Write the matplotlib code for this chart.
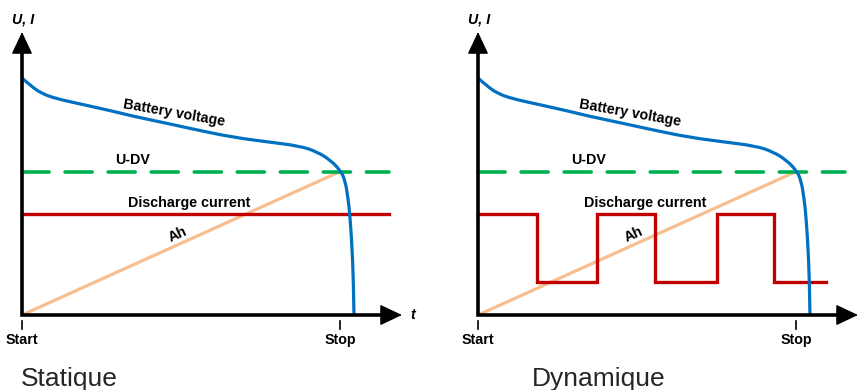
import matplotlib
matplotlib.use("Agg")
import matplotlib.pyplot as plt
from matplotlib.path import Path
from matplotlib.patches import PathPatch

plt.rcParams['font.family'] = ['Liberation Sans', 'DejaVu Sans']
plt.rcParams['lines.scale_dashes'] = False

# Battery voltage curve (time: Start=0, Stop=1; level: initial voltage=1)
t_volt = [0.000, 0.031, 0.062, 0.104, 0.188, 0.292, 0.345, 0.455, 0.560,
          0.664, 0.769, 0.874, 0.927, 0.969, 1.000, 1.016, 1.026, 1.031,
          1.037, 1.042, 1.044]
u_volt = [1.000, 0.963, 0.935, 0.914, 0.889, 0.858, 0.840, 0.809, 0.778,
          0.750, 0.731, 0.713, 0.689, 0.654, 0.612, 0.570, 0.485, 0.422,
          0.304, 0.160, 0.000]

u_dv = 0.605
line_end = 1.154

# Static discharge current
i_static = 0.426

# Dynamic discharge current (square wave)
t_switch = [0.0, 0.187, 0.373, 0.557, 0.751, 0.931, 1.094]
i_dyn = [0.426, 0.139, 0.426, 0.139, 0.426, 0.139]

# Ah counter: from Start to U-DV at Stop
t_ah = [0.0, 1.0]
ah = [0.0, u_dv]

titles = ["Statique", "Dynamique"]
tick_labels = ["Start", "Stop"]
tick_pos = [0.0, 1.0]

BLUE = "#0070C0"
GREEN = "#00B050"
RED = "#C00000"
ORANGE = "#F7BE90"
TXT = "#262626"

PX_T = 318.0
PX_V = 237.0
W, H = 862, 390

fig = plt.figure(figsize=(W / 100, H / 100), dpi=100)


def smooth_path(xs, ys):
    # quadratic B-spline style path: read points act as control points
    pts = list(zip(xs, ys))
    verts = [pts[0]]
    codes = [Path.MOVETO]
    for i in range(1, len(pts) - 1):
        nxt = pts[i + 1] if i == len(pts) - 2 else \
            ((pts[i][0] + pts[i + 1][0]) / 2, (pts[i][1] + pts[i + 1][1]) / 2)
        verts += [pts[i], nxt]
        codes += [Path.CURVE3, Path.CURVE3]
    return Path(verts, codes)


def panel(left_px, origin_px, dynamic, show_t):
    ax = fig.add_axes([left_px / W, 0, 431 / W, 1])
    ax.set_xlim((left_px - origin_px) / PX_T, (left_px + 431 - origin_px) / PX_T)
    ax.set_ylim((315 - H) / PX_V, 315 / PX_V)
    ax.axis('off')

    x_tip = 1.195
    y_tip = 1.194

    # Ah
    ax.plot(t_ah, ah, color=ORANGE, lw=2.3, solid_capstyle='butt', zorder=2)
    # discharge current
    if dynamic:
        ax.step(t_switch, i_dyn + [i_dyn[-1]], where='post', color=RED, lw=2.4,
                solid_joinstyle='miter', zorder=3)
    else:
        ax.plot([0, line_end], [i_static, i_static], color=RED, lw=2.4, zorder=3)
    # U-DV
    ax.plot([0, line_end], [u_dv, u_dv], color=GREEN, lw=2.6,
            dashes=(19.5, 11.5), dash_capstyle='round', zorder=3)
    # battery voltage
    ax.add_patch(PathPatch(smooth_path(t_volt, u_volt), facecolor='none',
                           edgecolor=BLUE, lw=2.3, capstyle='butt', zorder=4))

    # axes
    ax.plot([0, 0, x_tip - 0.04], [y_tip - 0.06, 0, 0], color='black', lw=2.6,
            solid_joinstyle='miter', zorder=5)
    for tip, base in [((0, y_tip), (0, y_tip - 0.1)), ((x_tip, 0), (x_tip - 0.1, 0))]:
        ax.annotate('', xy=tip, xytext=base,
                    arrowprops=dict(arrowstyle='-|>,head_length=0.7,head_width=0.33',
                                    mutation_scale=20, color='black', lw=1,
                                    shrinkA=0, shrinkB=0), zorder=6)
    for tp, lab in zip(tick_pos, tick_labels):
        ax.plot([tp, tp], [-0.027, -0.061], color='black', lw=1.2)
        ax.text(tp, (315 - 344) / PX_V, lab, ha='center', va='baseline',
                fontsize=10.3, fontweight='bold', color='black')

    ax.text(0.002, (315 - 24) / PX_V, "U, I", ha='center', va='baseline',
            fontsize=10.3, fontweight='bold', fontstyle='italic')
    if show_t:
        ax.text(1.230, 0.0, "t", ha='center', va='center',
                fontsize=10.3, fontweight='bold', fontstyle='italic')

    ax.text(0.479, 0.854, "Battery voltage", ha='center', va='center',
            rotation=-10, rotation_mode='anchor', fontsize=10.3, fontweight='bold')
    ax.text(0.349, 0.654, "U-DV", ha='center', va='center',
            fontsize=10.3, fontweight='bold')
    ax.text(0.526, 0.456, "Discharge current", ha='center', va='baseline',
            fontsize=10.3, fontweight='bold')
    ax.text(0.489, 0.338, "Ah", ha='center', va='center', rotation=24,
            rotation_mode='anchor', fontsize=10.3, fontweight='bold')
    return ax


ax1 = panel(0, 22, False, True)
ax2 = panel(431, 478, True, False)

ax1.text((69.5 - 22) / PX_T, (315 - 386) / PX_V, titles[0], ha='center',
         va='baseline', fontsize=19, color=TXT)
ax2.text((598.3 - 478) / PX_T, (315 - 386) / PX_V, titles[1], ha='center',
         va='baseline', fontsize=19, color=TXT)

fig.savefig("out.png", dpi=100)
